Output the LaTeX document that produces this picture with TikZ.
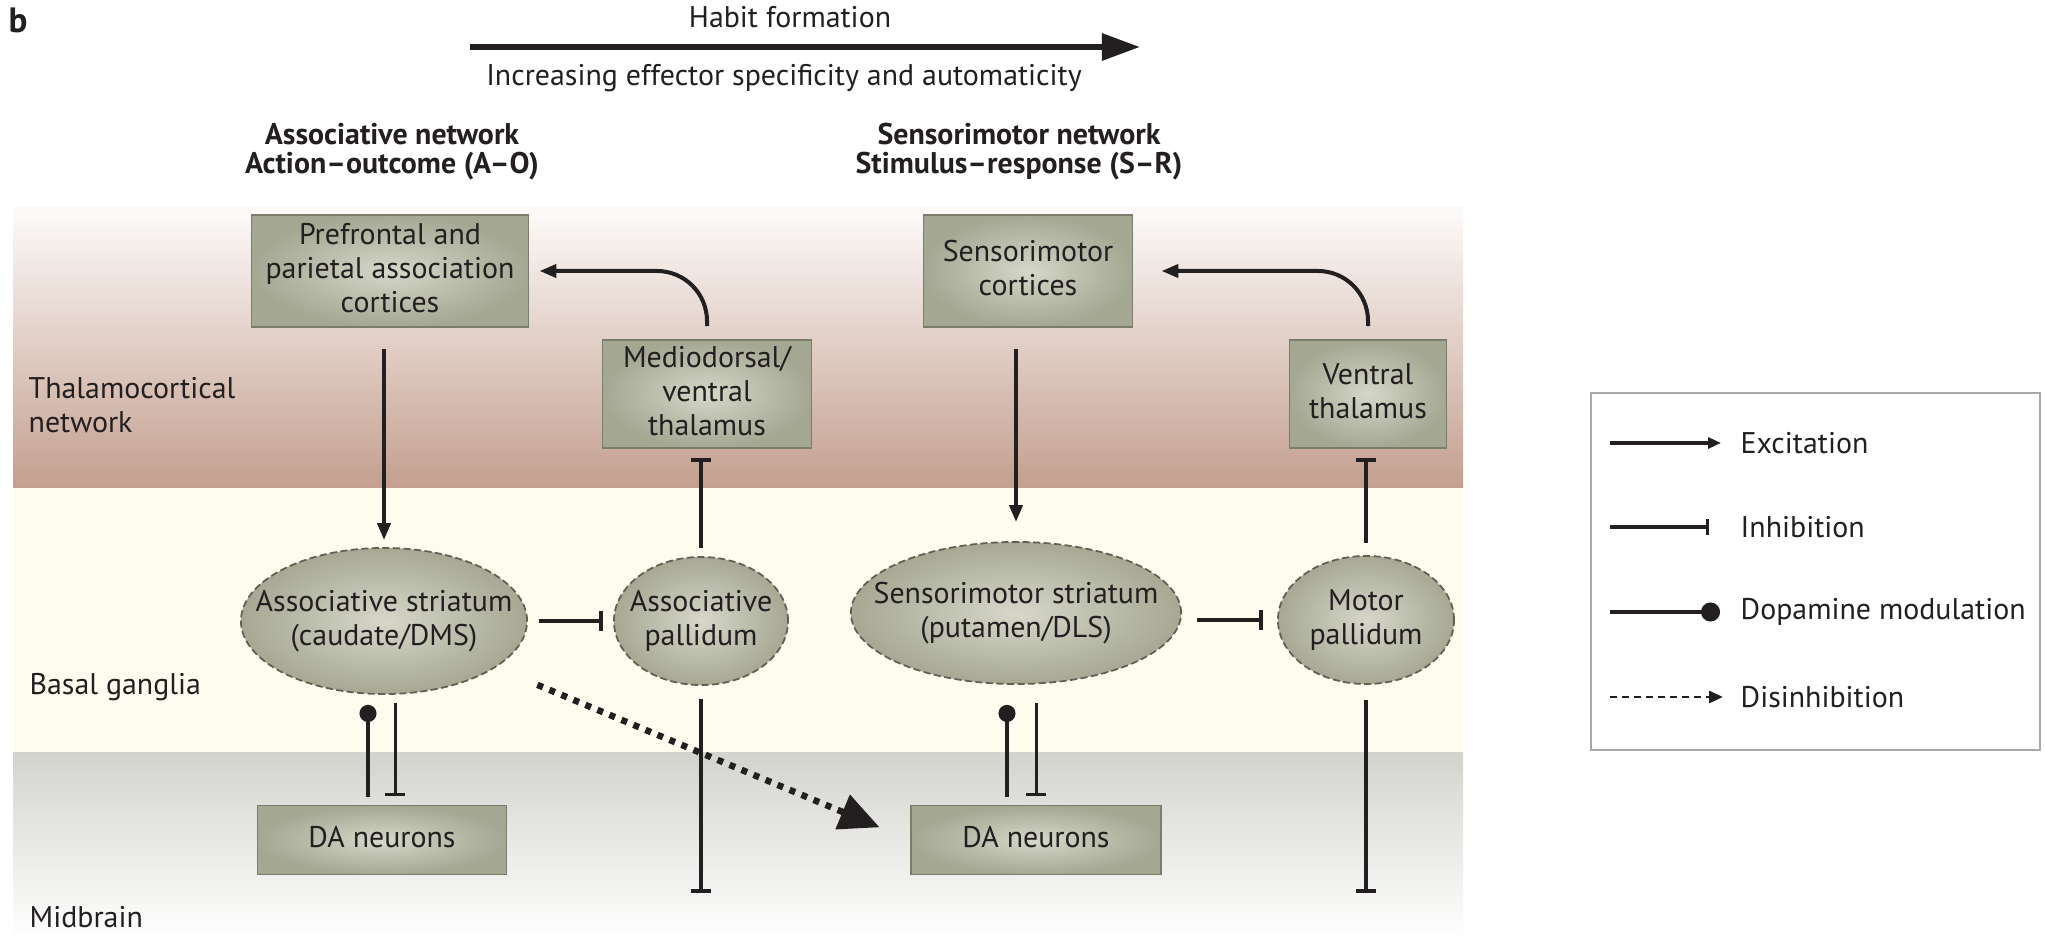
\documentclass[tikz,border=0pt]{standalone}
\usepackage{fontspec}
\setmainfont{PT Sans}
\usetikzlibrary{arrows.meta,shapes.geometric}
\definecolor{ink}{HTML}{231F20}
\definecolor{boxin}{HTML}{D5D7C9}
\definecolor{boxout}{HTML}{A4A792}
\definecolor{boxline}{HTML}{7B7D6C}
\definecolor{ellin}{HTML}{D6D7C9}
\definecolor{ellout}{HTML}{A6A894}
\definecolor{ellline}{HTML}{5F6054}
\definecolor{bandatop}{HTML}{FDFBFA}
\definecolor{bandabot}{HTML}{C39F8F}
\definecolor{bandb}{HTML}{FDFCEE}
\definecolor{bandctop}{HTML}{D3D3CE}
\definecolor{legline}{HTML}{A8A8A8}
\newcommand{\ctext}[1]{\makebox[0pt]{\smash{\raisebox{-0.25em}{\begin{tabular}{@{}c@{}}#1\end{tabular}}}}}
\tikzset{
  every node/.style={font=\fontsize{8.5pt}{9.7pt}\selectfont, text=ink},
  boxn/.style={rectangle, draw=boxline, line width=0.5pt, inner color=boxin, outer color=boxout, inner sep=0pt},
  elln/.style={ellipse, draw=ellline, line width=0.5pt, dash pattern=on 2pt off 1pt, inner color=ellin, outer color=ellout, inner sep=0pt},
  conn/.style={line width=0.04cm, draw=ink},
  exc/.style={conn, -{Triangle[length=0.17cm,width=0.13cm]}},
  inh/.style={conn, -{Bar[width=0.2cm]}},
  inhthin/.style={line width=0.03cm, draw=ink, -{Bar[width=0.2cm]}},
  dop/.style={conn, -{Circle[length=0.17cm]}},
  dis/.style={line width=0.065cm, draw=ink, dash pattern=on 0.06cm off 0.07cm, -{Triangle[length=0.4cm,width=0.36cm]}},
  legl/.style={line width=0.035cm, draw=ink},
  lbl/.style={inner sep=0pt, anchor=west},
  head/.style={font=\fontsize{8.5pt}{8.2pt}\selectfont\bfseries, align=center, inner sep=0pt}
}
\begin{document}
\begin{tikzpicture}[x=0.01cm, y=-0.01cm]
\useasboundingbox (0,0) rectangle (2045,940);
\fill[white] (0,0) rectangle (2045,940);
% bands
\shade[top color=bandatop, bottom color=bandabot] (13,207) rectangle (1463,488);
\fill[bandb] (13,488) rectangle (1463,752);
\shade[top color=bandctop, bottom color=white] (13,752) rectangle (1463,940);

% top labels
\node[font=\fontsize{10pt}{12pt}\selectfont\bfseries, inner sep=0pt] (b) at (18,20) {b};
\node[inner sep=0pt] (habit) at (790,17) {Habit formation};
\coordinate (h1) at (470,47);
\coordinate (h2) at (1140,47);
\draw[line width=0.06cm, draw=ink, -{Triangle[length=0.38cm,width=0.26cm]}] (h1) -- (h2);
\node[inner sep=0pt] (incr) at (784,78) {Increasing effector specificity and automaticity};
\node[head] (hassoc) at (392,152) {Associative network\\Action--outcome (A--O)};
\node[head] (hsens) at (1019,152) {Sensorimotor network\\Stimulus--response (S--R)};

% region labels
\node[lbl, align=left] (ltc) at (28,405) {Thalamocortical\\network};
\node[lbl] (lbg) at (29,687) {Basal ganglia};
\node[lbl] (lmb) at (29,917) {Midbrain};

% nodes
\node[boxn, minimum width=2.77cm, minimum height=1.12cm] (pf) at (390,271) {\ctext{Prefrontal and\\parietal association\\cortices}};
\node[boxn, minimum width=2.09cm, minimum height=1.08cm] (md) at (707,394) {\ctext{Mediodorsal/\\ventral\\thalamus}};
\node[boxn, minimum width=2.09cm, minimum height=1.12cm] (sc) at (1028,271) {\ctext{Sensorimotor\\cortices}};
\node[boxn, minimum width=1.57cm, minimum height=1.08cm] (vt) at (1368,394) {\ctext{Ventral\\thalamus}};
\node[boxn, minimum width=2.49cm, minimum height=0.69cm] (dal) at (382,840) {\ctext{DA neurons}};
\node[boxn, minimum width=2.50cm, minimum height=0.69cm] (dar) at (1036,840) {\ctext{DA neurons}};
\node[elln, minimum width=2.86cm, minimum height=1.46cm] (as) at (384,621) {\ctext{Associative striatum\\(caudate/DMS)}};
\node[elln, minimum width=1.74cm, minimum height=1.28cm] (ap) at (701,621) {\ctext{Associative\\pallidum}};
\node[elln, minimum width=3.30cm, minimum height=1.42cm] (ss) at (1016,613) {\ctext{Sensorimotor striatum\\(putamen/DLS)}};
\node[elln, minimum width=1.76cm, minimum height=1.28cm] (mp) at (1366,620) {\ctext{Motor\\pallidum}};

% connectors
\draw[exc, shorten <=0.21cm, shorten >=0.07cm] (as.north |- pf.south) -- (as.north);
\draw[exc, shorten <=0.21cm, shorten >=0.19cm] (ss.north |- sc.south) -- (ss.north);
\draw[exc, rounded corners=0.5cm, shorten <=0.13cm, shorten >=0.10cm] (md.north) |- (pf.east);
\draw[exc, rounded corners=0.5cm, shorten <=0.13cm, shorten >=0.28cm] (vt.north) |- (sc.east);
\draw[inh, shorten <=0.11cm, shorten >=0.10cm] (as.east) -- (ap.west);
\draw[inh, shorten <=0.15cm, shorten >=0.14cm] (ss.east |- mp.west) -- (mp.west);
\draw[inh, shorten <=0.08cm, shorten >=0.09cm] (ap.north) -- (ap.north |- md.south);
\draw[inh, shorten <=0.12cm, shorten >=0.09cm] (mp.north) -- (mp.north |- vt.south);
\coordinate (apend) at (701,893);
\coordinate (mpend) at (1366,893);
\draw[inh, shorten <=0.13cm] (ap.south) -- (apend);
\draw[inh, shorten <=0.15cm] (mp.south) -- (mpend);
\coordinate (d1) at ([xshift=-0.14cm]dal.north);
\coordinate (d2) at ([xshift=0.13cm]dal.north);
\coordinate (d3) at ([xshift=-0.29cm]dar.north);
\draw[dop, shorten <=0.08cm, shorten >=0.10cm] (d1) -- (d1 |- as.south);
\draw[inhthin, shorten <=0.08cm, shorten >=0.09cm] (d2 |- as.south) -- (d2);
\draw[dop, shorten <=0.08cm, shorten >=0.20cm] (d3) -- (d3 |- ss.south);
\draw[inhthin, shorten <=0.18cm, shorten >=0.09cm] (dar.north |- ss.south) -- (dar.north);
\draw[dis, shorten <=0.45cm, shorten >=0.33cm] (as) -- (dar.west);

% legend
\node[draw=legline, line width=0.025cm, fill=white, minimum width=4.49cm, minimum height=3.57cm, inner sep=0pt] (leg) at (1815.5,571.5) {};
\coordinate (e1) at (1610,443); \coordinate (e2) at (1721,443);
\coordinate (i1) at (1610,527); \coordinate (i2) at (1709,527);
\coordinate (m1) at (1610,612); \coordinate (m2) at (1720,612);
\coordinate (s1) at (1610,697); \coordinate (s2) at (1723,697);
\draw[legl, -{Triangle[length=0.13cm,width=0.11cm]}] (e1) -- (e2);
\draw[legl, -{Bar[width=0.15cm]}] (i1) -- (i2);
\draw[legl, -{Circle[length=0.19cm]}] (m1) -- (m2);
\draw[line width=0.028cm, draw=ink, dash pattern=on 0.07cm off 0.05cm, -{Triangle[length=0.14cm,width=0.12cm]}] (s1) -- (s2);
\node[lbl] (te) at (1740,443) {Excitation};
\node[lbl] (ti) at (1740,527) {Inhibition};
\node[lbl] (tm) at (1740,612) {Dopamine modulation};
\node[lbl] (ts) at (1740,697) {Disinhibition};
\end{tikzpicture}
\end{document}
